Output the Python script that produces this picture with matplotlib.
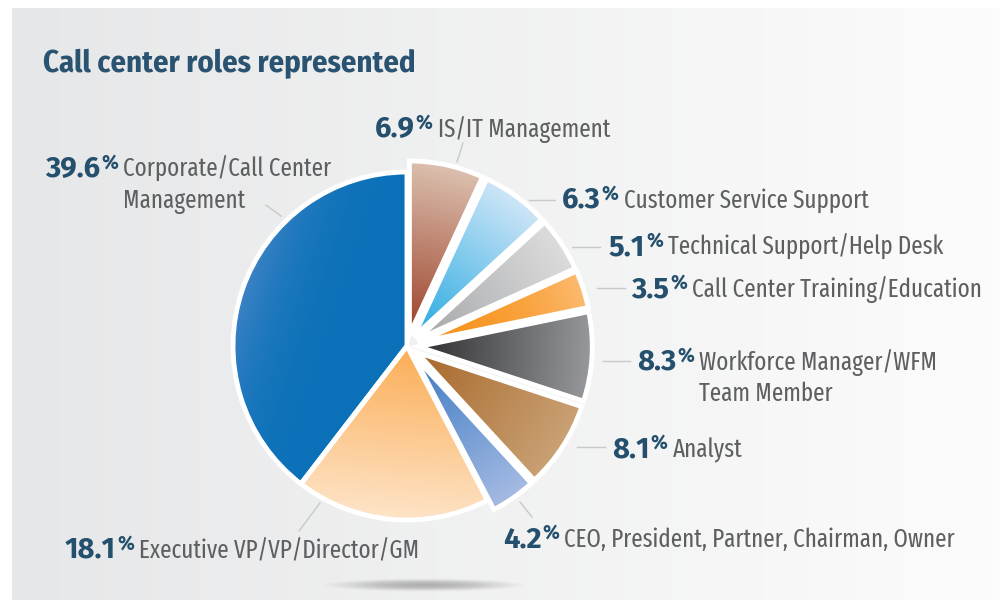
import numpy as np
import matplotlib
matplotlib.use("Agg")
import matplotlib.pyplot as plt
from matplotlib.colors import to_rgb

W, H = 1000, 604

# slices, clockwise from 12 o'clock
roles = ["IS/IT Management", "Customer Service Support", "Technical Support/Help Desk",
         "Call Center Training/Education", "Workforce Manager/WFM\nTeam Member", "Analyst",
         "CEO, President, Partner, Chairman, Owner", "Executive VP/VP/Director/GM",
         "Corporate/Call Center\nManagement"]
shares = [6.9, 6.3, 5.1, 3.5, 8.3, 8.1, 4.2, 18.1, 39.6]

# gradient colours: near the centre -> at the rim
inner_colors = ["#9c4029", "#27a9e1", "#a4a6a9", "#f7931e", "#2e2e30",
                "#a7682b", "#3c79c3", "#fbad55", "#0a71b8"]
outer_colors = ["#dcc1b0", "#cfe6f7", "#dcdcdc", "#fcbb70", "#97999c",
                "#caa275", "#a5bbe3", "#fee4c8", "#3d82c4"]
gammas = [1, 1, 1, 2, 1, 1, 1, 1, 4]
explode = [0.065] * 7 + [0, 0]   # fraction of the radius

# label layout in pixels from the top-left: start of the percentage, baseline
label_pos = [(375, 137), (562, 208), (609, 255), (631, 297), (637, 370),
             (612, 457), (503, 547), (65, 558), (45, 177)]
leaders = [((457, 162), (463, 143)), ((529, 200), (555, 200)), ((572, 247), (600, 247)),
           ((597, 288), (625, 288)), ((603, 361), (630, 361)), ((577, 447), (605, 447)),
           ((520, 502), (532, 517)), ((320, 503), (299, 531)), ((266, 205), (281, 216))]

PCT_COLOR = "#24506e"
TXT_COLOR = "#5e5f61"
BOLD_FONT = ["Fira Sans", "DejaVu Sans"]
COND_FONT = ["Fira Sans Extra Condensed", "DejaVu Sans"]
TITLE_FONT = ["Fira Sans Condensed", "DejaVu Sans"]
R = 174
CENTER = (407, 346)

fig = plt.figure(figsize=(W / 100, H / 100), dpi=100)
ax = fig.add_axes([0, 0, 1, 1])


def py(y):
    # pixel row -> data y
    return H - y


# light grey panel, fading to white on the right
xs = np.linspace(0, 1, 400)
c0, c1 = np.array(to_rgb("#e6e7e8")), np.array(to_rgb("#fcfcfc"))
panel = (1 - xs)[None, :, None] * c0 + xs[None, :, None] * c1
ax.imshow(np.repeat(panel, 2, axis=0), extent=(12, W, py(600), py(8)),
          origin="lower", aspect="auto", zorder=0, interpolation="bilinear")

# soft shadow under the pie
sx, sy = np.meshgrid(np.linspace(-1, 1, 300), np.linspace(-1, 1, 40))
alpha = np.clip(1 - (sx ** 2 + sy ** 2), 0, 1) ** 1.5 * 0.55
shadow = np.zeros(sx.shape + (4,))
shadow[..., :3] = to_rgb("#7d7d7d")
shadow[..., 3] = alpha
ax.imshow(shadow, extent=(318, 530, py(592), py(578)), origin="lower",
          aspect="auto", zorder=1, interpolation="bilinear")

wedges, _ = ax.pie(shares, startangle=90, counterclock=False, radius=R,
                   center=(CENTER[0], py(CENTER[1])), explode=[e * R for e in explode],
                   wedgeprops=dict(edgecolor="white", linewidth=3.5))

for w, ci, co, g in zip(wedges, inner_colors, outer_colors, gammas):
    v = w.get_path().vertices
    x0, x1 = v[:, 0].min(), v[:, 0].max()
    y0, y1 = v[:, 1].min(), v[:, 1].max()
    mid = np.radians((w.theta1 + w.theta2) / 2)
    d = np.array([np.cos(mid), np.sin(mid)])
    proj = v @ d
    gx, gy = np.meshgrid(np.linspace(x0, x1, int(x1 - x0) + 2),
                         np.linspace(y0, y1, int(y1 - y0) + 2))
    t = np.clip(((gx * d[0] + gy * d[1]) - proj.min()) / (proj.max() - proj.min()), 0, 1) ** g
    rgb = (1 - t)[..., None] * np.array(to_rgb(ci)) + t[..., None] * np.array(to_rgb(co))
    im = ax.imshow(rgb, extent=(x0, x1, y0, y1), origin="lower", aspect="auto",
                   zorder=2, interpolation="bilinear")
    im.set_clip_path(w)
    w.set_facecolor("none")
    w.set_zorder(3)

# leader lines
for (a, b) in leaders:
    ax.plot([a[0], b[0]], [py(a[1]), py(b[1])], color="#c9c9c9", lw=1, zorder=3)

ax.set_xlim(0, W)
ax.set_ylim(0, H)
ax.set_aspect("auto")
ax.axis("off")

ax.text(43, py(72), "Call center roles represented", fontsize=22, weight="bold",
        color="#2a5372", family=TITLE_FONT, va="baseline", zorder=5)

pct_texts = []
for v, (x, y) in zip(shares, label_pos):
    t = ax.text(x, py(y), f"{v:.1f}", fontsize=21, weight="bold", color=PCT_COLOR,
                family=BOLD_FONT, va="baseline", zorder=5)
    pct_texts.append(t)

fig.canvas.draw()
rend = fig.canvas.get_renderer()
for t, role, (x, y) in zip(pct_texts, roles, label_pos):
    x_end = t.get_window_extent(rend).x1
    sign = ax.text(x_end + 1, py(y - 8), "%", fontsize=14, weight="bold", color=PCT_COLOR,
                   family=BOLD_FONT, va="baseline", zorder=5)
    x_txt = sign.get_window_extent(rend).x1 + 5
    for i, line in enumerate(role.split("\n")):
        ax.text(x_txt, py(y + 31 * i), line, fontsize=18, color=TXT_COLOR,
                family=COND_FONT, va="baseline", zorder=5)

fig.savefig("out.png", dpi=100, facecolor="white")
